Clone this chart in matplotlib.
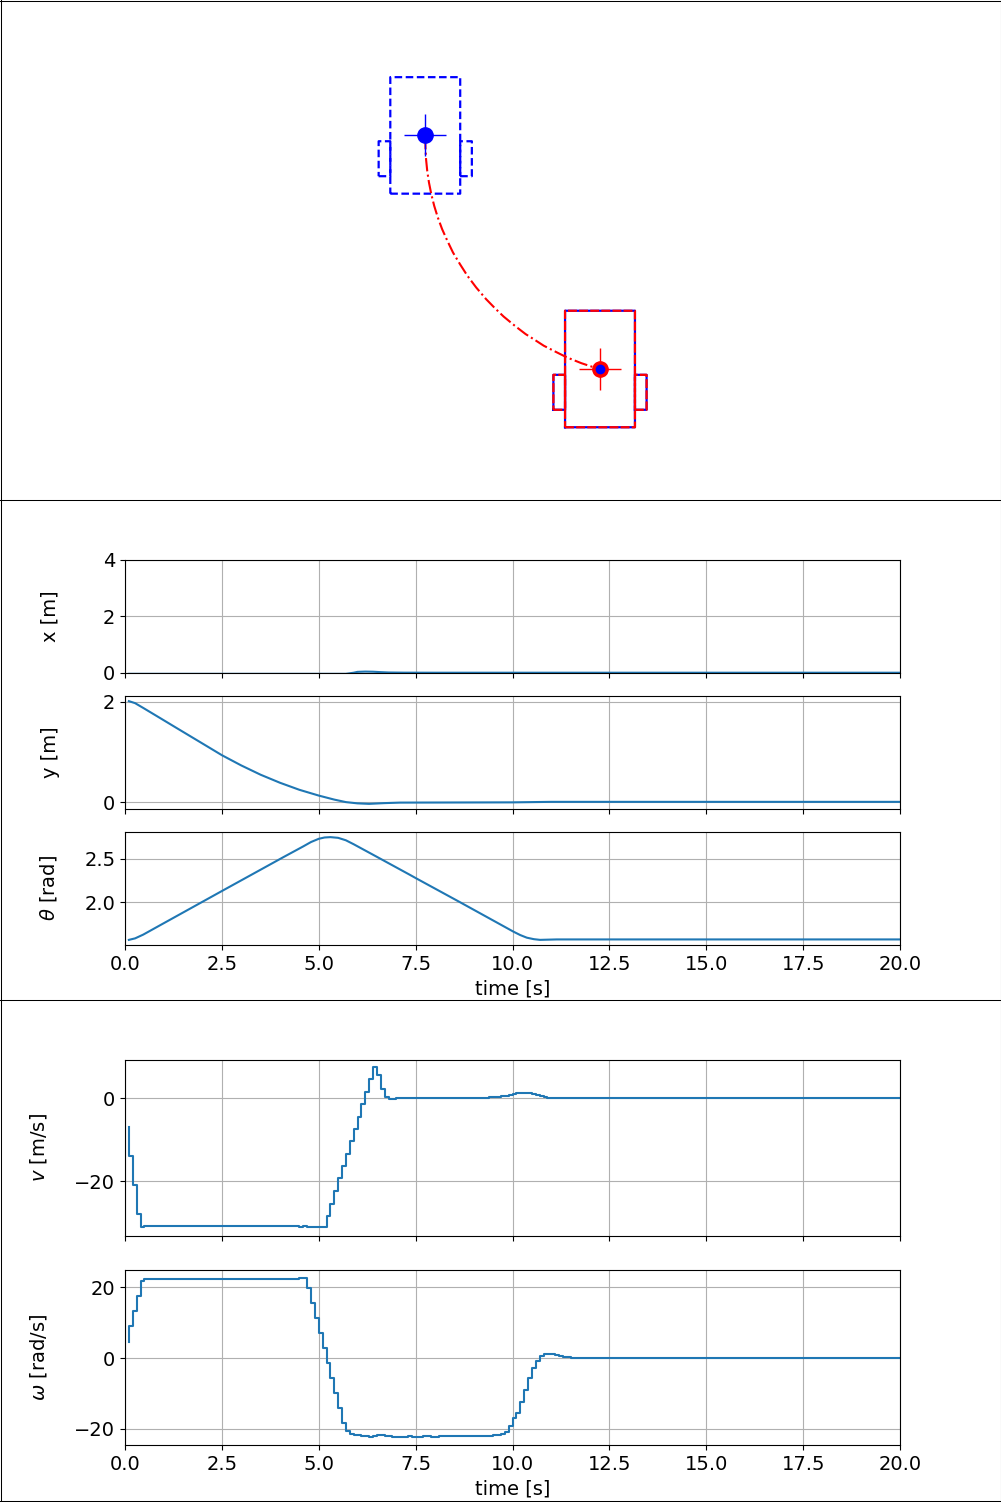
"""
Robot parking run: top view of the start and final pose, states and inputs over time.
"""
import matplotlib

matplotlib.use("Agg")
import matplotlib.pyplot as plt
from matplotlib.lines import Line2D

FIG_W, FIG_H = 1001, 1502
M_PER_PX = 1 / 116.5

# top view, metres
start_pose = (-1.5, 2.005)
final_pose = (0.0, 0.0)
path_x = [-1.5, -1.498, -1.493, -1.483, -1.468, -1.448, -1.423, -1.392, -1.355, -1.31, -1.262, -1.202,
          -1.138, -1.063, -0.978, -0.9, -0.827, -0.73, -0.639, -0.56, -0.483, -0.385, -0.285, -0.16,
          -0.07, 0.0]
path_y = [2.0, 1.9, 1.8, 1.7, 1.6, 1.5, 1.4, 1.3, 1.2, 1.1, 1.0, 0.9,
          0.8, 0.7, 0.6, 0.52, 0.45, 0.37, 0.3, 0.25, 0.2, 0.15, 0.1, 0.05,
          0.02, 0.0]
body_x = [-0.3, 0.3, 0.3, -0.3, -0.3]
body_y = [-0.5, -0.5, 0.5, 0.5, -0.5]
left_wheel_x = [-0.4, -0.3, -0.3, -0.4, -0.4]
right_wheel_x = [0.3, 0.4, 0.4, 0.3, 0.3]
wheel_y = [-0.35, -0.35, -0.05, -0.05, -0.35]

# states
t_x = [0.1, 5.7, 5.8, 5.9, 6.0, 6.2, 6.4, 6.6, 6.8, 7.2, 8.0, 20.0]
x_vals = [-0.03, -0.03, -0.01, 0.01, 0.04, 0.05, 0.045, 0.03, 0.018, 0.012, 0.01, 0.01]
t_y = [0.1, 0.26, 0.47, 0.9, 1.33, 1.76, 2.19, 2.5, 3.0, 3.5, 4.0, 4.5, 5.0, 5.4, 5.7, 6.0,
       6.3, 6.7, 7.1, 10.0, 11.0, 20.0]
y_vals = [2.01, 1.97, 1.875, 1.676, 1.476, 1.277, 1.078, 0.934, 0.73, 0.545, 0.385, 0.245, 0.13, 0.05,
          0.0, -0.025, -0.035, -0.02, -0.01, -0.005, 0.005, 0.005]
t_th = [0.1, 0.26, 0.47, 0.9, 2.5, 4.1, 4.6, 4.8, 5.0, 5.15, 5.3, 5.5, 5.7, 5.9, 6.49, 7.35, 7.52, 8.65,
        10.02, 10.2, 10.37, 10.55, 10.71, 11.14, 20.0]
th_vals = [1.57, 1.587, 1.63, 1.736, 2.129, 2.52, 2.64, 2.69, 2.727, 2.742, 2.746, 2.738, 2.71, 2.665, 2.523,
           2.315, 2.273, 2.0, 1.665, 1.625, 1.595, 1.578, 1.57, 1.575, 1.575]

# inputs, each value holds up to its time
t_v = [0.1, 0.2, 0.3, 0.4, 0.5, 4.5, 4.6, 4.7, 5.2, 5.3, 5.4, 5.5, 5.6, 5.7, 5.8, 5.9, 6.0, 6.1, 6.2, 6.3,
       6.4, 6.5, 6.6, 6.7, 6.8, 6.9, 7.0, 9.4, 9.6, 9.7, 9.8, 9.9, 10.0, 10.1, 10.2, 10.4, 10.5, 10.6, 10.7,
       10.8, 10.9, 11.0, 11.1, 20.0]
v_vals = [-7, -14, -21, -28, -31, -30.8, -31, -30.8, -31, -28.4, -25.5, -22.3, -19.2, -16.3, -13.4, -10.3,
          -7.5, -4.5, -1.4, 1.5, 4.6, 7.4, 5.6, 2.2, 0.3, -0.2, -0.15, 0, 0.15, 0.2, 0.4, 0.5, 0.7, 1.0, 1.1,
          1.3, 1.1, 1.05, 0.8, 0.55, 0.3, 0.1, 0.05, 0]
t_w = [0.1, 0.2, 0.3, 0.4, 0.5, 4.5, 4.7, 4.8, 4.9, 5.0, 5.1, 5.2, 5.3, 5.4, 5.5, 5.6, 5.7, 5.8, 5.9, 6.1,
       6.3, 6.4, 6.5, 6.7, 6.9, 7.3, 7.4, 7.7, 7.9, 8.1, 9.5, 9.7, 9.8, 9.9, 10.0, 10.1, 10.2, 10.3, 10.4,
       10.5, 10.6, 10.7, 10.8, 11.1, 11.2, 11.3, 11.5, 20.0]
w_vals = [4.4, 9.05, 13.4, 17.6, 21.9, 22.4, 22.7, 19.9, 15.7, 11.4, 7.2, 2.9, -1.3, -5.7, -9.8, -14, -18.3,
          -20.6, -21.4, -21.8, -22.1, -22.4, -22.1, -21.8, -22.1, -22.4, -22.1, -22.4, -22.1, -22.4, -22.1,
          -21.8, -21.4, -20.9, -19.2, -16.9, -15.5, -12.4, -9.1, -5.7, -2.8, -0.85, 0.55, 1.1, 0.85, 0.55,
          0.35, 0]

time_ticks = [0, 2.5, 5, 7.5, 10, 12.5, 15, 17.5, 20]


def axes_px(fig, left, top, right, bottom):
    return fig.add_axes([left / FIG_W, 1 - bottom / FIG_H, (right - left) / FIG_W, (bottom - top) / FIG_H])


def setup_time_ax(ax, ylabel, label_x, yticks, show_time=False):
    ax.set_xlim(0, 20)
    ax.set_xticks(time_ticks)
    ax.set_yticks(yticks)
    ax.grid(True)
    ax.set_ylabel(ylabel)
    ax.yaxis.set_label_coords(-(125 - label_x) / 775, 0.5)
    if show_time:
        ax.set_xlabel("time [s]")
    else:
        ax.tick_params(labelbottom=False)


def draw_robot(ax, pose, color, dashes=None):
    px, py = pose
    outlines = [(body_x, body_y), (left_wheel_x, wheel_y), (right_wheel_x, wheel_y)]
    for xs, ys in outlines:
        line, = ax.plot([px + x for x in xs], [py + y for y in ys], color=color, lw=1.6)
        line.set_snap(False)
        if dashes:
            line.set_dashes(dashes)


plt.rcParams["font.size"] = 14
fig = plt.figure(figsize=(FIG_W / 100, FIG_H / 100), dpi=100)

# top view
ax_top = fig.add_axes([0, 1 - 500 / FIG_H, 1, 500 / FIG_H])
ax_top.set_xlim(-600 * M_PER_PX, 401 * M_PER_PX)
ax_top.set_ylim(-131 * M_PER_PX, 369 * M_PER_PX)
ax_top.axis("off")
draw_robot(ax_top, start_pose, "b", dashes=(3.4, 1.6))
draw_robot(ax_top, final_pose, "b")
draw_robot(ax_top, final_pose, "r", dashes=(4.0, 1.0))
ax_top.plot(path_x, path_y, "r-.", lw=1.5)
ax_top.plot(*start_pose, "bo", ms=11)
ax_top.plot(*start_pose, "b+", ms=30, mew=1)
ax_top.plot(*final_pose, "ro", ms=11)
ax_top.plot(*final_pose, "r+", ms=30, mew=1)
ax_top.plot(*final_pose, "bo", ms=6)

# states
ax_x = axes_px(fig, 125, 560, 900, 673)
ax_x.plot(t_x, x_vals)
ax_x.set_ylim(0, 4)
setup_time_ax(ax_x, "x [m]", 60, [0, 2, 4])

ax_y = axes_px(fig, 125, 696, 900, 809)
ax_y.plot(t_y, y_vals)
setup_time_ax(ax_y, "y [m]", 60, [0, 2])

ax_th = axes_px(fig, 125, 832, 900, 945)
ax_th.plot(t_th, th_vals)
setup_time_ax(ax_th, r"$\theta$ [rad]", 59, [2.0, 2.5], show_time=True)

# inputs
ax_v = axes_px(fig, 125, 1060, 900, 1236)
ax_v.step(t_v, v_vals)
ax_v.set_ylim(-33.25, 9.16)
setup_time_ax(ax_v, r"$v$ [m/s]", 49, [-20, 0])

ax_w = axes_px(fig, 125, 1270, 900, 1445)
ax_w.step(t_w, w_vals)
ax_w.set_ylim(-24.6, 24.9)
setup_time_ax(ax_w, r"$\omega$ [rad/s]", 49, [-20, 0, 20], show_time=True)

# frames round the three panels
for y_px in [0.5, 500, 1000, 1501]:
    y = 1 - y_px / FIG_H
    fig.add_artist(Line2D([0, 1], [y, y], color="k", lw=0.75, transform=fig.transFigure))
for x_px in [0.5, 1000.5]:
    x = x_px / FIG_W
    fig.add_artist(Line2D([x, x], [0, 1], color="k", lw=0.75, transform=fig.transFigure))

fig.savefig("out.png", dpi=100)
